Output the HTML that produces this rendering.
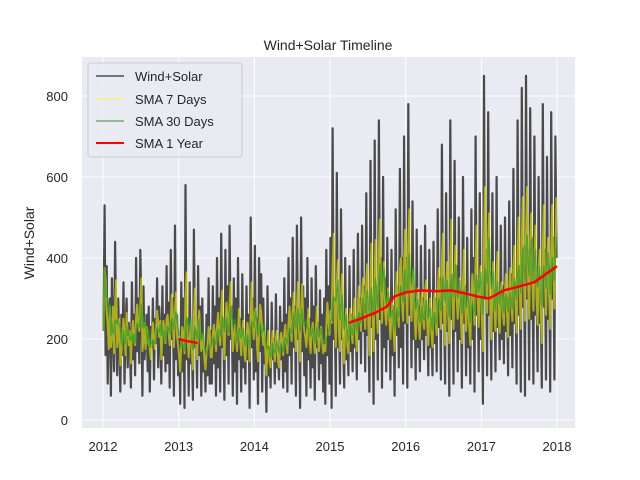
<!DOCTYPE html>
<html><head><meta charset="utf-8"><style>
body{margin:0;background:#fff;}
svg{display:block;font-family:"Liberation Sans",sans-serif;}
</style></head><body>
<svg id="chart" width="640" height="480">
<rect x="82" y="57" width="493" height="371" fill="#eaeaf2"/>
<g id="grid"></g>
<g id="series"></g>
<g id="ticks" font-size="13" fill="#262626"></g>
<text x="328" y="50" text-anchor="middle" font-size="14" fill="#262626">Wind+Solar Timeline</text>
<text transform="translate(34,243) rotate(-90)" text-anchor="middle" font-size="14" fill="#262626">Wind+Solar</text>
<g>
<rect x="88" y="63" width="154" height="94" rx="3" fill="#eaeaf2" fill-opacity="0.8" stroke="#cccccc"/>
<line x1="96" y1="76" x2="124" y2="76" stroke="#4d4d4d" stroke-width="1.5"/>
<text x="135" y="81" font-size="13" fill="#262626">Wind+Solar</text>
<line x1="96" y1="99" x2="124" y2="99" stroke="#ffff00" stroke-opacity="0.5" stroke-width="1.5"/>
<text x="135" y="104" font-size="13" fill="#262626">SMA 7 Days</text>
<line x1="96" y1="121" x2="124" y2="121" stroke="#2ca02c" stroke-opacity="0.7" stroke-width="1.5"/>
<text x="135" y="126" font-size="13" fill="#262626">SMA 30 Days</text>
<line x1="96" y1="143" x2="124" y2="143" stroke="#ff0000" stroke-width="2"/>
<text x="135" y="148" font-size="13" fill="#262626">SMA 1 Year</text>
</g>
</svg>
<script>
const yearTicks=[2012,2013,2014,2015,2016,2017,2018];
const yTicks=[0,200,400,600,800];
const raw=[
220,530,160,380,90,260, 300,60,350,210,120,440, 250,110,300,200,70,260, 160,340,90,230,300,130, 240,200,80,340,150,260, 110,400,170,300,140,420,
280,60,330,150,200,260, 120,280,70,230,180,300, 100,250,190,350,130,280, 210,90,330,160,260,120, 380,140,290,80,420,200, 300,60,480,150,260,110,
200,40,340,120,300,30, 580,150,250,60,340,140, 200,50,470,180,220,80, 380,160,280,60,300,120, 180,70,260,110,350,90, 220,90,330,140,280,60,
400,130,300,70,460,180, 250,50,420,160,330,90, 480,200,280,60,350,120, 300,40,400,150,250,70, 360,130,200,90,330,150, 260,30,500,180,300,100,
430,120,250,40,400,170, 360,70,300,140,200,20, 330,110,180,80,290,150, 200,90,310,130,160,100, 280,150,240,80,350,120, 260,70,400,160,300,90,
450,180,280,60,480,200, 260,30,500,170,330,110, 300,60,400,150,250,80, 350,130,280,50,380,180, 240,100,320,140,260,70, 300,40,420,160,330,90,
450,30,720,200,300,60, 610,180,250,90,520,200, 200,80,400,150,220,110, 380,170,260,120,420,180, 240,100,460,200,300,140, 480,220,330,120,560,210,
250,70,640,230,300,40, 690,200,330,100,740,250, 400,80,600,180,350,120, 450,200,300,100,420,160, 280,60,520,210,330,130, 620,180,400,90,700,240,
400,80,780,260,360,130, 540,200,300,100,470,180, 280,120,430,200,300,150, 480,210,260,110,420,180, 250,110,440,190,300,120, 520,230,350,100,680,240,
280,90,560,220,320,60, 740,250,360,90,640,220, 380,120,500,200,300,80, 600,240,330,110,450,180, 280,90,520,200,400,70, 700,260,340,120,560,200,
300,40,850,300,420,110, 760,260,300,100,560,220, 320,120,600,230,280,150, 480,200,330,140,500,220, 300,110,540,210,360,130, 620,240,340,90,740,260,
380,70,820,280,430,60, 850,300,400,100,770,250, 450,90,700,260,350,120, 600,240,300,80,780,280, 420,100,650,250,380,70, 760,300,450,100,700,400];
const sma1yDates1=[2013.0,2013.1,2013.2,2013.25];
const sma1yVals1=[200,195,192,190];
const sma1yDates2=[2015.25,2015.4,2015.6,2015.75,2015.85,2016.0,2016.2,2016.4,2016.6,2016.8,2016.95,2017.1,2017.3,2017.5,2017.7,2017.85,2018.0];
const sma1yVals2=[240,250,265,280,305,315,320,318,320,312,305,300,320,330,340,360,380];
const X=y=>103+(y-2012)*75.67, Y=v=>420-v*0.405;
const NS="http://www.w3.org/2000/svg";
const g=document.getElementById('grid'),s=document.getElementById('series'),t=document.getElementById('ticks');
function mk(tag,a,p){const e=document.createElementNS(NS,tag);for(const k in a)e.setAttribute(k,a[k]);p.appendChild(e);return e;}
yearTicks.forEach(yr=>{mk('line',{x1:X(yr),x2:X(yr),y1:57,y2:428,stroke:'#fff','stroke-width':1},g);
 const e=mk('text',{x:X(yr),y:451,'text-anchor':'middle'},t);e.textContent=yr;
 
 });
yTicks.forEach(v=>{mk('line',{x1:82,x2:575,y1:Y(v),y2:Y(v),stroke:'#fff','stroke-width':1},g);
 const e=mk('text',{x:68,y:Y(v)+5,'text-anchor':'end'},t);e.textContent=v;
 
 });
const dates=raw.map((v,i)=>2012+(i+0.5)/72);
function sma(arr,w){return arr.map((v,i)=>{const a=arr.slice(Math.max(0,i-w+1),i+1);return a.reduce((p,c)=>p+c,0)/a.length;});}
function path(ds,vs,attrs,name){const d=vs.map((v,i)=>(i?'L':'M')+X(ds[i]).toFixed(1)+','+Y(v).toFixed(1)).join('');
 const e=mk('path',Object.assign({d:d,fill:'none','stroke-linejoin':'round'},attrs),s);
 
 }
path(dates,raw,{stroke:'#4a4a4a','stroke-width':2.2},'wind-solar-line');
path(dates,sma(raw,2),{stroke:'#ffff00','stroke-opacity':0.55,'stroke-width':2},'sma-7-line');
path(dates,sma(raw,6),{stroke:'#2ca02c','stroke-opacity':0.7,'stroke-width':1.5},'sma-30-line');
path(sma1yDates1,sma1yVals1,{stroke:'#ff0000','stroke-width':2.5},'sma-1-year-line-a');
path(sma1yDates2,sma1yVals2,{stroke:'#ff0000','stroke-width':2.5},'sma-1-year-line-b');
</script>
</body></html>
